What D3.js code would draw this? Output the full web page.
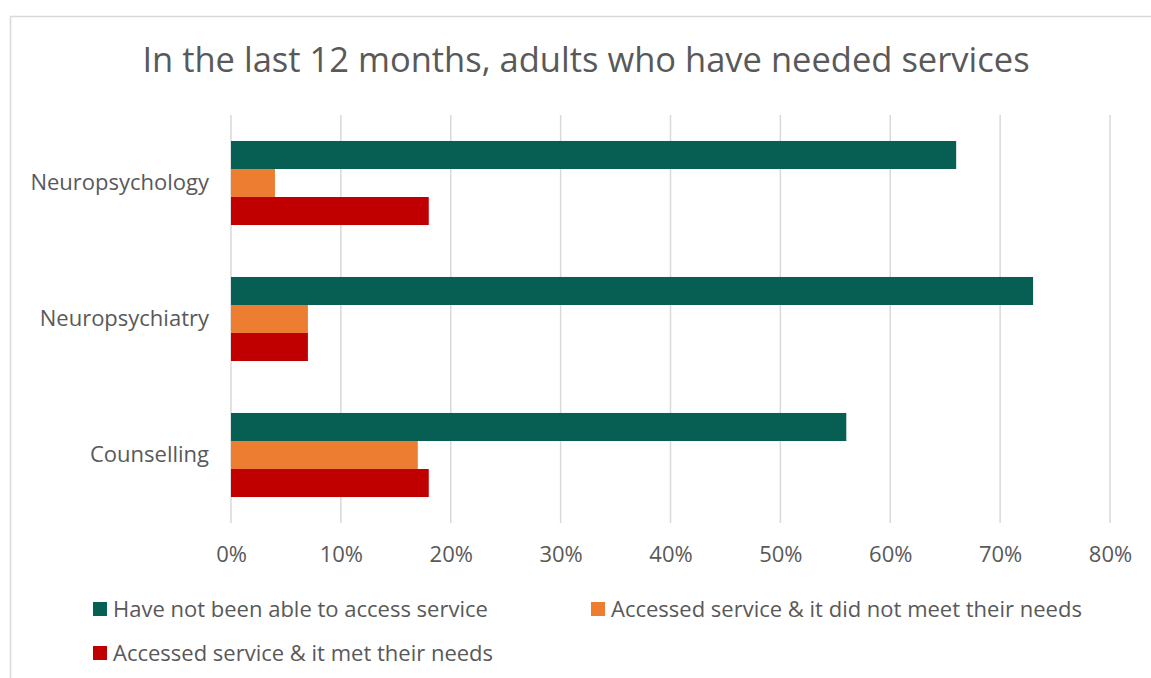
<!DOCTYPE html>
<html>
<head>
<meta charset="utf-8">
<script src="https://cdnjs.cloudflare.com/ajax/libs/d3/7.8.5/d3.min.js"></script>
<style>
  body { margin: 0; background: #fff; }
  svg { display: block; font-family: "Open Sans", sans-serif; }
</style>
</head>
<body>
<svg id="chart" width="1151" height="678"></svg>
<script>
const categories = ['Neuropsychology', 'Neuropsychiatry', 'Counselling'];
const seriesNames = [
    'Have not been able to access service',
    'Accessed service & it did not meet their needs',
    'Accessed service & it met their needs'
];
const notAccessed = [0.66, 0.73, 0.56];
const notMet = [0.04, 0.07, 0.17];
const met = [0.18, 0.07, 0.18];
const xTicks = [0, 0.1, 0.2, 0.3, 0.4, 0.5, 0.6, 0.7, 0.8];
const colors = ['#075e52', '#ed7d31', '#c00000'];

const series = [notAccessed, notMet, met];
const rows = categories.map((c, i) => ({ category: c, values: series.map(s => s[i]) }));

const svg = d3.select('#chart');
const textColor = '#595959';
const labelSize = 22;

// outer chart border
svg.append('rect')
    .attr('x', 10.5).attr('y', 16.5)
    .attr('width', 1160).attr('height', 680)
    .attr('fill', 'none')
    .attr('stroke', '#d9d9d9')
    .attr('stroke-width', 1.5);

svg.append('text')
    .attr('x', 586).attr('y', 72)
    .attr('text-anchor', 'middle')
    .attr('fill', textColor)
    .attr('font-size', 34.5)
    .text('In the last 12 months, adults who have needed services');

const x = d3.scaleLinear().domain([0, 0.8]).range([231, 1110]);
const y = d3.scaleBand().domain(categories).range([115, 523])
    .paddingInner(0.382).paddingOuter(0.191);
const ySub = d3.scaleBand().domain(d3.range(series.length)).range([0, y.bandwidth()]);

// gridlines
svg.append('g')
    .selectAll('line')
    .data(xTicks)
    .enter().append('line')
    .attr('x1', d => x(d)).attr('x2', d => x(d))
    .attr('y1', 115).attr('y2', 523)
    .attr('stroke', '#d9d9d9')
    .attr('stroke-width', 1.5);

const xAxis = svg.append('g')
    .attr('transform', 'translate(0,523)')
    .call(d3.axisBottom(x).tickValues(xTicks).tickFormat(d3.format('.0%')).tickSize(0).tickPadding(23));
xAxis.select('.domain').remove();
xAxis.selectAll('text')
    .attr('fill', textColor)
    .attr('font-size', labelSize)
    .attr('font-family', '"Open Sans", sans-serif');

const yAxis = svg.append('g')
    .attr('transform', 'translate(231,0)')
    .call(d3.axisLeft(y).tickSize(0).tickPadding(22));
yAxis.select('.domain').remove();
yAxis.selectAll('text')
    .attr('fill', textColor)
    .attr('font-size', labelSize)
    .attr('font-family', '"Open Sans", sans-serif');

const groups = svg.append('g')
    .selectAll('g')
    .data(rows)
    .enter().append('g')
    .attr('transform', d => `translate(0,${y(d.category)})`);

groups.selectAll('rect')
    .data(d => d.values.map((v, i) => ({ v, i })))
    .enter().append('rect')
    .attr('x', x(0))
    .attr('y', d => ySub(d.i))
    .attr('width', d => x(d.v) - x(0))
    .attr('height', ySub.bandwidth())
    .attr('fill', d => colors[d.i]);

// legend
const legendPos = [[93, 609], [591, 609], [93, 653]];
const legend = svg.append('g')
    .selectAll('g')
    .data(seriesNames)
    .enter().append('g')
    .attr('transform', (d, i) => `translate(${legendPos[i][0]},${legendPos[i][1]})`);

legend.append('rect')
    .attr('x', 0).attr('y', -7)
    .attr('width', 14).attr('height', 14)
    .attr('fill', (d, i) => colors[i]);

legend.append('text')
    .attr('x', 20).attr('y', 0)
    .attr('dy', '0.35em')
    .attr('fill', textColor)
    .attr('font-size', labelSize)
    .text(d => d);
</script>
</body>
</html>
